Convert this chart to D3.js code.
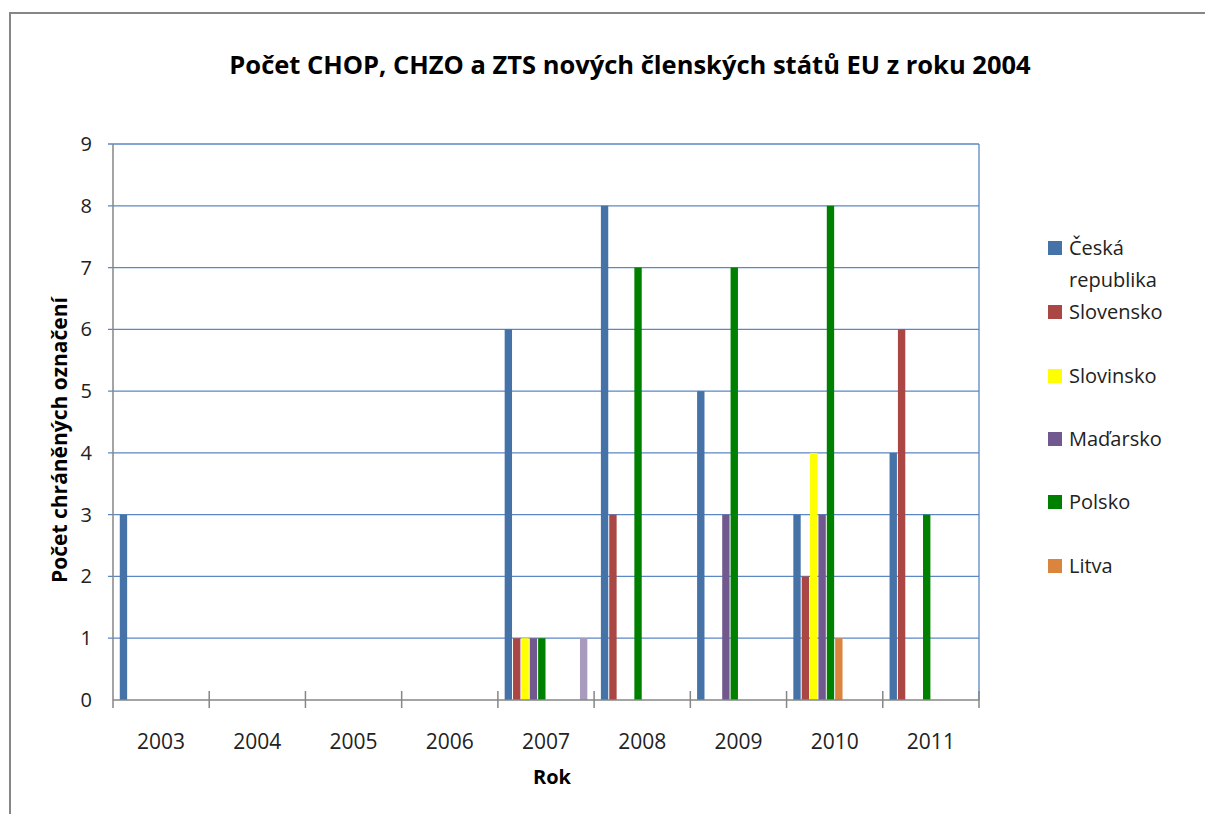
<!DOCTYPE html>
<html>
<head>
<meta charset="utf-8">
<script src="https://cdn.jsdelivr.net/npm/d3@7"></script>
<style>
  body { margin: 0; background: #fff; }
  svg { display: block; font-family: "Open Sans", sans-serif; }
</style>
</head>
<body>
<svg width="1205" height="814"></svg>
<script>
// roky (kategorie)
var years = ["2003", "2004", "2005", "2006", "2007", "2008", "2009", "2010", "2011"];

// serie - state; v legende se vejde jen prvnich 6
var countries = ["Česká republika", "Slovensko", "Slovinsko", "Maďarsko", "Polsko", "Litva",
  "Lotyšsko", "Estonsko", "Malta", "Kypr"];
var colors = ["#4572A7", "#AA4643", "#FFFF00", "#71588F", "#008000", "#DB843D",
  "#93A9CF", "#D19392", "#B9CD96", "#A99BBD"];

var cesko     = [3, 0, 0, 0, 6, 8, 5, 3, 4];
var slovensko = [0, 0, 0, 0, 1, 3, 0, 2, 6];
var slovinsko = [0, 0, 0, 0, 1, 0, 0, 4, 0];
var madarsko  = [0, 0, 0, 0, 1, 0, 3, 3, 0];
var polsko    = [0, 0, 0, 0, 1, 7, 7, 8, 3];
var litva     = [0, 0, 0, 0, 0, 0, 0, 1, 0];
var lotyssko  = [0, 0, 0, 0, 0, 0, 0, 0, 0];
var estonsko  = [0, 0, 0, 0, 0, 0, 0, 0, 0];
var malta     = [0, 0, 0, 0, 0, 0, 0, 0, 0];
var kypr      = [0, 0, 0, 0, 1, 0, 0, 0, 0];

var yTicks = [0, 1, 2, 3, 4, 5, 6, 7, 8, 9];
var legendShown = 6;

var values = [cesko, slovensko, slovinsko, madarsko, polsko, litva, lotyssko, estonsko, malta, kypr];

var svg = d3.select("svg");

// ramecek grafu
svg.append("rect")
  .attr("x", 10).attr("y", 13)
  .attr("width", 1220).attr("height", 830)
  .attr("fill", "#fff")
  .attr("stroke", "#868686")
  .attr("stroke-width", 2);

var pLeft = 113, pRight = 979, pTop = 144, pBottom = 700;

var x = d3.scaleBand().domain(years).range([pLeft, pRight]).padding(0);
var xs = d3.scaleBand().domain(d3.range(countries.length))
  .range([0, x.bandwidth()]).paddingInner(0).paddingOuter(0.75);
var y = d3.scaleLinear().domain([0, 9]).range([pBottom, pTop]);

// mrizka
svg.append("g").selectAll("line")
  .data(yTicks.filter(function (d) { return d > 0; }))
  .enter().append("line")
  .attr("x1", pLeft - 5).attr("x2", pRight)
  .attr("y1", function (d) { return y(d); })
  .attr("y2", function (d) { return y(d); })
  .attr("stroke", "#5B87C5")
  .attr("stroke-width", 1.3);

svg.append("line")
  .attr("x1", pRight).attr("x2", pRight)
  .attr("y1", pTop).attr("y2", pBottom)
  .attr("stroke", "#5B87C5").attr("stroke-width", 1.3);

// sloupce
values.forEach(function (vals, i) {
  svg.append("g").selectAll("rect")
    .data(vals.map(function (v, j) { return { year: years[j], v: v }; })
      .filter(function (d) { return d.v > 0; }))
    .enter().append("rect")
    .attr("x", function (d) { return x(d.year) + xs(i) + 0.5; })
    .attr("width", xs.bandwidth() - 1)
    .attr("y", function (d) { return y(d.v); })
    .attr("height", function (d) { return y(0) - y(d.v); })
    .attr("fill", colors[i]);
});

// osy
svg.append("line")
  .attr("x1", pLeft).attr("x2", pLeft)
  .attr("y1", pTop).attr("y2", pBottom + 8)
  .attr("stroke", "#868686").attr("stroke-width", 1.5);
svg.append("line")
  .attr("x1", pLeft).attr("x2", pRight)
  .attr("y1", pBottom).attr("y2", pBottom)
  .attr("stroke", "#868686").attr("stroke-width", 1.5);
svg.append("g").selectAll("line")
  .data(years.slice(1).concat(["end"]))
  .enter().append("line")
  .attr("x1", function (d, i) { return pLeft + (i + 1) * x.step(); })
  .attr("x2", function (d, i) { return pLeft + (i + 1) * x.step(); })
  .attr("y1", pBottom - 9).attr("y2", pBottom + 8)
  .attr("stroke", "#868686").attr("stroke-width", 1.5);

// popisky
svg.append("g").selectAll("text")
  .data(yTicks)
  .enter().append("text")
  .attr("x", 92)
  .attr("y", function (d) { return y(d) + 7; })
  .attr("text-anchor", "end")
  .attr("font-size", 20)
  .attr("fill", "#222")
  .text(function (d) { return d; });

svg.append("g").selectAll("text")
  .data(years)
  .enter().append("text")
  .attr("x", function (d) { return x(d) + x.bandwidth() / 2; })
  .attr("y", 749)
  .attr("text-anchor", "middle")
  .attr("font-size", 21)
  .attr("fill", "#222")
  .text(function (d) { return d; });

svg.append("text")
  .attr("x", 630).attr("y", 74)
  .attr("text-anchor", "middle")
  .attr("font-size", 25.5)
  .attr("font-weight", "bold")
  .attr("fill", "#000")
  .text("Počet CHOP, CHZO a ZTS nových členských států EU z roku 2004");

svg.append("text")
  .attr("x", 552).attr("y", 784)
  .attr("text-anchor", "middle")
  .attr("font-size", 20)
  .attr("font-weight", "bold")
  .text("Rok");

svg.append("text")
  .attr("transform", "translate(67,440) rotate(-90)")
  .attr("text-anchor", "middle")
  .attr("font-size", 21)
  .attr("font-weight", "bold")
  .text("Počet chráněných označení");

// legenda
var legendY = [248, 312, 376, 439, 502, 566];
var leg = svg.append("g").selectAll("g")
  .data(countries.slice(0, legendShown))
  .enter().append("g")
  .attr("transform", function (d, i) { return "translate(1048," + legendY[i] + ")"; });
leg.append("rect")
  .attr("x", 0).attr("y", -7)
  .attr("width", 14).attr("height", 14)
  .attr("fill", function (d, i) { return colors[i]; });
leg.each(function (d) {
  var words = d.split(" ");
  var t = d3.select(this).append("text")
    .attr("x", 21).attr("y", 7)
    .attr("font-size", 20)
    .attr("fill", "#222");
  words.forEach(function (w, k) {
    t.append("tspan").attr("x", 21).attr("dy", k === 0 ? 0 : 32).text(w);
  });
});
</script>
</body>
</html>
